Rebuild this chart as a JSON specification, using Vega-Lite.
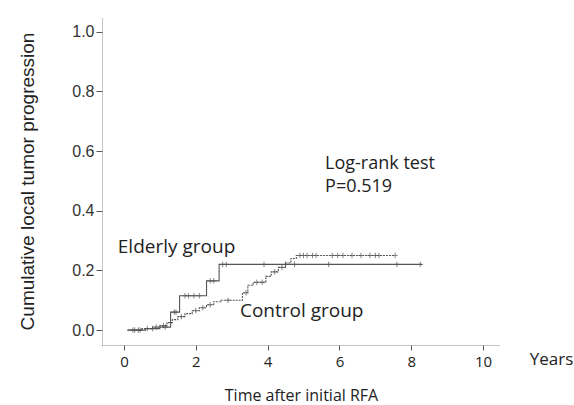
{
  "$schema": "https://vega.github.io/schema/vega-lite/v6.json",
  "width": 398,
  "height": 328,
  "autosize": {"type": "none"},
  "padding": {"left": 102, "top": 17, "right": 74, "bottom": 60},
  "background": "white",
  "config": {"view": {"stroke": null}},
  "datasets": {
    "steps": [
      {"group": "Elderly", "t": 0.1, "p": 0},
      {"group": "Elderly", "t": 0.6, "p": 0.005},
      {"group": "Elderly", "t": 1.0, "p": 0.01},
      {"group": "Elderly", "t": 1.3, "p": 0.06},
      {"group": "Elderly", "t": 1.55, "p": 0.115},
      {"group": "Elderly", "t": 2.3, "p": 0.165},
      {"group": "Elderly", "t": 2.65, "p": 0.22},
      {"group": "Elderly", "t": 8.3, "p": 0.22},
      {"group": "Control", "t": 0.1, "p": 0},
      {"group": "Control", "t": 0.5, "p": 0.005},
      {"group": "Control", "t": 0.8, "p": 0.01},
      {"group": "Control", "t": 1.0, "p": 0.015},
      {"group": "Control", "t": 1.2, "p": 0.025},
      {"group": "Control", "t": 1.35, "p": 0.035},
      {"group": "Control", "t": 1.5, "p": 0.045},
      {"group": "Control", "t": 1.7, "p": 0.055},
      {"group": "Control", "t": 1.9, "p": 0.065},
      {"group": "Control", "t": 2.1, "p": 0.075},
      {"group": "Control", "t": 2.3, "p": 0.085},
      {"group": "Control", "t": 2.5, "p": 0.095},
      {"group": "Control", "t": 2.7, "p": 0.1},
      {"group": "Control", "t": 3.3, "p": 0.125},
      {"group": "Control", "t": 3.45, "p": 0.15},
      {"group": "Control", "t": 3.6, "p": 0.16},
      {"group": "Control", "t": 3.95, "p": 0.18},
      {"group": "Control", "t": 4.1, "p": 0.195},
      {"group": "Control", "t": 4.3, "p": 0.21},
      {"group": "Control", "t": 4.5, "p": 0.225},
      {"group": "Control", "t": 4.65, "p": 0.24},
      {"group": "Control", "t": 4.8, "p": 0.25},
      {"group": "Control", "t": 7.55, "p": 0.25}
    ],
    "censor": [
      {"group": "Elderly", "t": 0.3, "p": 0},
      {"group": "Elderly", "t": 0.45, "p": 0},
      {"group": "Elderly", "t": 0.8, "p": 0.005},
      {"group": "Elderly", "t": 1.15, "p": 0.01},
      {"group": "Elderly", "t": 1.4, "p": 0.06},
      {"group": "Elderly", "t": 1.45, "p": 0.06},
      {"group": "Elderly", "t": 1.7, "p": 0.115},
      {"group": "Elderly", "t": 1.8, "p": 0.115},
      {"group": "Elderly", "t": 1.95, "p": 0.115},
      {"group": "Elderly", "t": 2.1, "p": 0.115},
      {"group": "Elderly", "t": 2.4, "p": 0.165},
      {"group": "Elderly", "t": 2.5, "p": 0.165},
      {"group": "Elderly", "t": 2.75, "p": 0.22},
      {"group": "Elderly", "t": 2.85, "p": 0.22},
      {"group": "Elderly", "t": 3.9, "p": 0.22},
      {"group": "Elderly", "t": 4.5, "p": 0.22},
      {"group": "Elderly", "t": 4.75, "p": 0.22},
      {"group": "Elderly", "t": 5.7, "p": 0.22},
      {"group": "Elderly", "t": 7.6, "p": 0.22},
      {"group": "Elderly", "t": 8.25, "p": 0.22},
      {"group": "Control", "t": 0.25, "p": 0},
      {"group": "Control", "t": 0.4, "p": 0},
      {"group": "Control", "t": 0.65, "p": 0.005},
      {"group": "Control", "t": 0.9, "p": 0.01},
      {"group": "Control", "t": 1.1, "p": 0.015},
      {"group": "Control", "t": 1.6, "p": 0.045},
      {"group": "Control", "t": 2.0, "p": 0.065},
      {"group": "Control", "t": 2.2, "p": 0.075},
      {"group": "Control", "t": 2.4, "p": 0.085},
      {"group": "Control", "t": 2.9, "p": 0.1},
      {"group": "Control", "t": 3.4, "p": 0.125},
      {"group": "Control", "t": 3.7, "p": 0.16},
      {"group": "Control", "t": 3.85, "p": 0.16},
      {"group": "Control", "t": 4.2, "p": 0.195},
      {"group": "Control", "t": 4.4, "p": 0.21},
      {"group": "Control", "t": 4.9, "p": 0.25},
      {"group": "Control", "t": 5.0, "p": 0.25},
      {"group": "Control", "t": 5.1, "p": 0.25},
      {"group": "Control", "t": 5.25, "p": 0.25},
      {"group": "Control", "t": 5.35, "p": 0.25},
      {"group": "Control", "t": 5.8, "p": 0.25},
      {"group": "Control", "t": 5.95, "p": 0.25},
      {"group": "Control", "t": 6.1, "p": 0.25},
      {"group": "Control", "t": 6.35, "p": 0.25},
      {"group": "Control", "t": 6.6, "p": 0.25},
      {"group": "Control", "t": 6.85, "p": 0.25},
      {"group": "Control", "t": 7.0, "p": 0.25},
      {"group": "Control", "t": 7.1, "p": 0.25},
      {"group": "Control", "t": 7.55, "p": 0.25}
    ],
    "labels": [
      {"label": "Log-rank test", "t": 5.6, "p": 0.555, "size": 18},
      {"label": "P=0.519", "t": 5.6, "p": 0.478, "size": 18},
      {"label": "Elderly group", "t": -0.17, "p": 0.28, "size": 19},
      {"label": "Control group", "t": 3.23, "p": 0.064, "size": 19},
      {"label": "Years", "t": 11.3, "p": -0.1, "size": 17}
    ]
  },
  "layer": [
    {
      "data": {"name": "steps"},
      "mark": {"type": "line", "interpolate": "step-after", "strokeWidth": 1.1, "color": "#555"},
      "encoding": {
        "x": {"field": "t", "type": "quantitative",
          "scale": {"domain": [-0.61, 10.47], "nice": false, "zero": false},
          "axis": {"values": [0, 2, 4, 6, 8, 10], "format": "d", "title": "Time after initial RFA",
            "titleFont": "Open Sans", "titleFontSize": 16, "titleFontWeight": "normal", "titleColor": "#222", "titlePadding": 18,
            "labelFont": "Open Sans", "labelFontSize": 15, "labelColor": "#222", "labelPadding": 4,
            "domainColor": "#888", "domainDash": [1, 1], "tickColor": "#555", "tickSize": 5, "grid": false}},
        "y": {"field": "p", "type": "quantitative",
          "scale": {"domain": [-0.05, 1.049], "nice": false, "zero": false},
          "axis": {"values": [0, 0.2, 0.4, 0.6, 0.8, 1.0], "format": ".1f", "title": "Cumulative local tumor progression",
            "titleFont": "Liberation Sans", "titleFontSize": 19, "titleFontWeight": "normal", "titleColor": "#222", "titlePadding": 34,
            "labelFont": "Liberation Sans", "labelFontSize": 16, "labelColor": "#333", "labelPadding": 2,
            "domainColor": "#888", "domainDash": [1, 1], "tickColor": "#555", "tickSize": 6, "grid": false}},
        "detail": {"field": "group"},
        "strokeDash": {"field": "group", "type": "nominal", "scale": {"domain": ["Elderly", "Control"], "range": [[1, 0], [2, 1]]}, "legend": null}
      }
    },
    {
      "data": {"name": "censor"},
      "mark": {"type": "point", "shape": "M -1 0 L 1 0 M 0 -1 L 0 1", "filled": false, "size": 30, "strokeWidth": 1, "color": "#555"},
      "encoding": {
        "x": {"field": "t", "type": "quantitative"},
        "y": {"field": "p", "type": "quantitative"}
      }
    },
    {
      "data": {"name": "labels"},
      "mark": {"type": "text", "align": "left", "baseline": "middle", "font": "Open Sans", "color": "#222"},
      "encoding": {
        "x": {"field": "t", "type": "quantitative"},
        "y": {"field": "p", "type": "quantitative"},
        "text": {"field": "label"},
        "size": {"field": "size", "type": "quantitative", "scale": null}
      }
    }
  ]
}
